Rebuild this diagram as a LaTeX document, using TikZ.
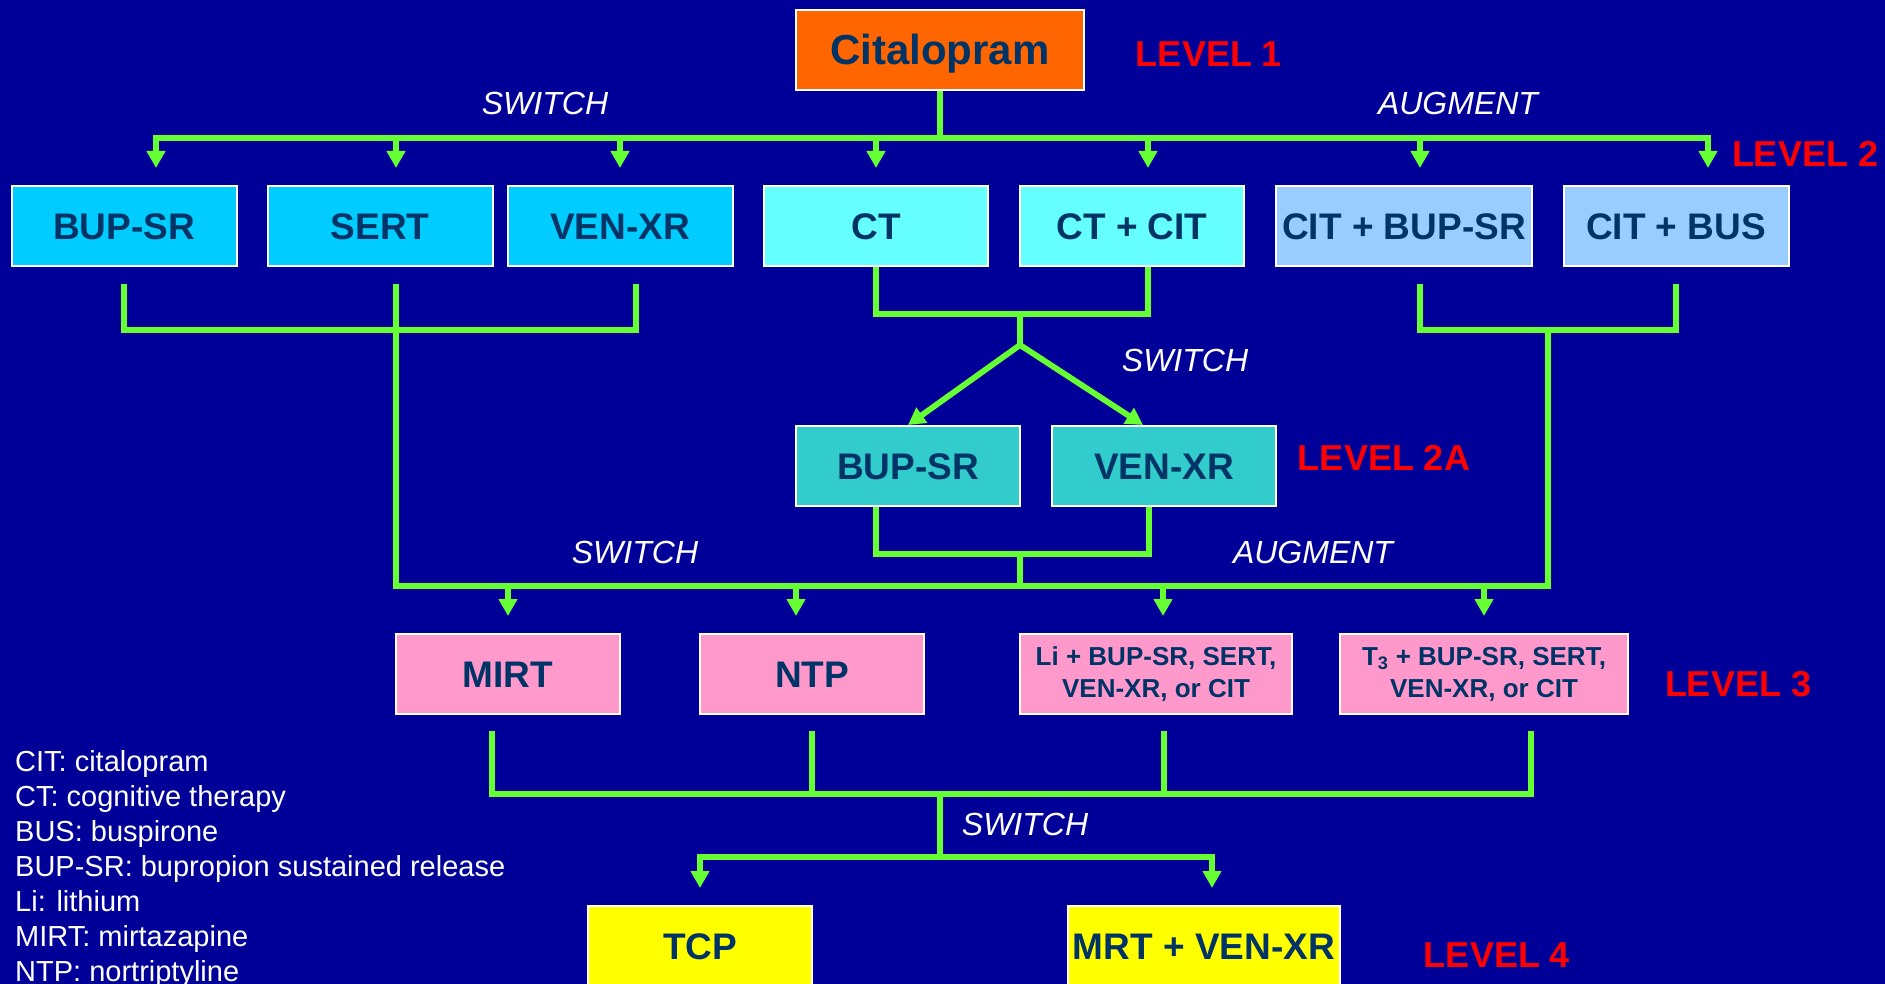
\documentclass[tikz,border=0pt]{standalone}
\usepackage{fontspec}
\setmainfont{Liberation Sans}
\usepackage{tikz}
\usetikzlibrary{arrows.meta}
\definecolor{bgnavy}{HTML}{000099}
\definecolor{wgreen}{HTML}{66FF33}
\definecolor{txtnavy}{HTML}{003366}
\definecolor{orangeA}{HTML}{FF6600}
\definecolor{cyanA}{HTML}{00CCFF}
\definecolor{cyanB}{HTML}{66FFFF}
\definecolor{blueC}{HTML}{99CCFF}
\definecolor{tealA}{HTML}{33CCCC}
\definecolor{pinkA}{HTML}{FF99CC}
\definecolor{yellowA}{HTML}{FFFF00}

\begin{document}
\begin{tikzpicture}[x=1pt,y=-1pt,
  cell/.style={draw=white,line width=2pt,inner sep=0pt,minimum width=224pt,minimum height=80pt,text=txtnavy},
  box/.style={cell,font=\fontsize{37}{44}\selectfont\bfseries,text height=27pt,text depth=0pt},
  duo/.style={cell,align=center,font=\fontsize{26}{32}\selectfont\bfseries},
  lvl/.style={text=red,inner sep=0pt,font=\fontsize{36}{43}\selectfont\bfseries},
  act/.style={text=white,inner sep=0pt,font=\fontsize{32}{38}\selectfont\itshape},
  wire/.style={draw=wgreen,line width=5.8pt},
  arr/.style={wire,-{Triangle[width=18pt,length=17pt]},shorten >=17pt}]
  \useasboundingbox (0,0) rectangle (1885,984);
  \fill[bgnavy] (0,0) rectangle (1885,984);

  \node[box,fill=orangeA,minimum width=288pt,text height=30pt,font=\fontsize{42}{50}\selectfont\bfseries] (cit) at (940,50) {Citalopram};
  \node[lvl] (lvl1) at (1209,54) {LEVEL 1};

  \node[box,fill=cyanA,minimum width=225pt] (bupsr) at (124,226) {BUP-SR};
  \node[box,fill=cyanA,minimum width=225pt] (sert) at (380,226) {SERT};
  \node[box,fill=cyanA,minimum width=225pt] (venxr) at (620,226) {VEN-XR};
  \node[box,fill=cyanB] (ct) at (876,226) {CT};
  \node[box,fill=cyanB] (ctcit) at (1132,226) {CT + CIT};
  \node[box,fill=blueC,minimum width=256pt] (citbup) at (1404,226) {CIT + BUP-SR};
  \node[box,fill=blueC,minimum width=225pt] (citbus) at (1676,226) {CIT + BUS};
  \node[lvl] (lvl2) at (1805,154) {LEVEL 2};

  \node[box,fill=tealA] (bupsra) at (908,466) {BUP-SR};
  \node[box,fill=tealA] (venxra) at (1164,466) {VEN-XR};
  \node[lvl] (lvl2a) at (1384,458) {LEVEL 2A};

  \node[box,fill=pinkA] (mirt) at (508,674) {MIRT};
  \node[box,fill=pinkA] (ntp) at (812,674) {NTP};
  \node[duo,fill=pinkA,minimum width=272pt] (li) at (1156,674) {Li + BUP-SR, SERT,\\VEN-XR, or CIT};
  \node[duo,fill=pinkA,minimum width=288pt] (tthree) at (1484,674) {T\textsubscript{3} + BUP-SR, SERT,\\VEN-XR, or CIT};
  \node[lvl] (lvl3) at (1738,684) {LEVEL 3};

  \node[box,fill=yellowA] (tcp) at (700,946) {TCP};
  \node[box,fill=yellowA,minimum width=272pt] (mrt) at (1204,946) {MRT + VEN-XR};
  \node[lvl] (lvl4) at (1497,955) {LEVEL 4};

  \node[act] (sw1) at (545,103) {SWITCH};
  \node[act] (au1) at (1458,103) {AUGMENT};
  \node[act] (sw2) at (1185,360) {SWITCH};
  \node[act] (sw3) at (635,552) {SWITCH};
  \node[act] (au3) at (1313,552) {AUGMENT};
  \node[act] (sw4) at (1025,824) {SWITCH};

  \node[anchor=north west,align=left,inner sep=0pt,text=white,font=\fontsize{29}{35}\selectfont] (legend) at (15,750)
    {CIT: citalopram\\CT: cognitive therapy\\BUS: buspirone\\BUP-SR: bupropion sustained release\\Li: lithium\\MIRT: mirtazapine\\NTP: nortriptyline};

  \coordinate (top) at (940,138);
  \draw[wire] (cit.south) -- (top);
  \foreach \n/\dx in {bupsr/32,sert/16,venxr/0,ct/0,ctcit/16,citbup/16,citbus/32}
    \draw[arr] (top) -| ([xshift=\dx pt]\n.north);

  \coordinate (jl) at (396,330);
  \coordinate (jr) at (1548,330);
  \coordinate (jc) at (1020,314);
  \coordinate (fork) at (1020,345);
  \coordinate (ja) at (1020,554);
  \coordinate (b3l) at (396,586);
  \coordinate (b3r) at (1548,586);
  \draw[wire] ([yshift=-17pt]bupsr.south) |- (jl) -| ([xshift=16pt,yshift=-17pt]venxr.south);
  \draw[wire] ([xshift=16pt,yshift=-17pt]sert.south) -- (b3l) -- (b3r) -- (jr);
  \draw[wire] ([xshift=16pt,yshift=-17pt]citbup.south) |- (jr) -| ([yshift=-17pt]citbus.south);
  \draw[wire] (ct.south) |- (jc) -| ([xshift=16pt]ctcit.south);
  \draw[wire] (jc) -- (fork);
  \draw[arr,shorten >=0pt] (fork) -- (bupsra.north);
  \draw[arr,shorten >=0pt] (fork) -- ([xshift=-21pt]venxra.north);
  \draw[wire] ([xshift=-32pt]bupsra.south) |- (ja) -| ([xshift=-15pt]venxra.south);
  \draw[wire] (ja) -- (ja |- b3l);
  \foreach \n/\dx in {mirt/0,ntp/-16,li/7,tthree/0}
    \draw[arr] ([xshift=\dx pt]\n.north |- b3l) -- ([xshift=\dx pt]\n.north);

  \coordinate (j3) at (940,794);
  \coordinate (b4) at (940,857);
  \draw[wire] ([xshift=-16pt,yshift=-16pt]mirt.south) |- ([xshift=47pt]tthree.south |- j3) -- ([xshift=47pt,yshift=-16pt]tthree.south);
  \foreach \n/\dx in {ntp/0,li/8}
    \draw[wire] ([xshift=\dx pt,yshift=-16pt]\n.south) -- ([xshift=\dx pt]\n.south |- j3);
  \draw[wire] (j3) -- (b4);
  \draw[arr] (b4) -| (tcp.north);
  \draw[arr] (b4) -| ([xshift=8pt]mrt.north);
\end{tikzpicture}
\end{document}
